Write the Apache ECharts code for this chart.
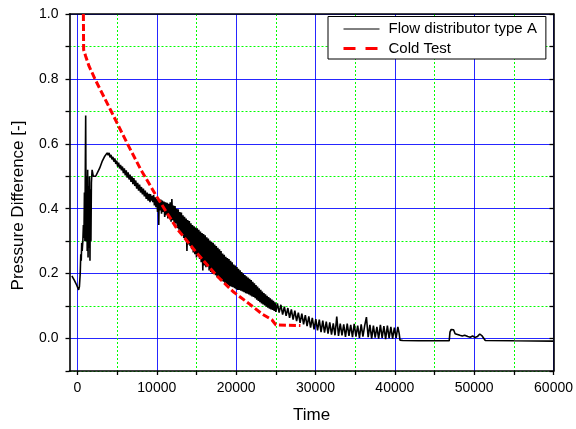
<!DOCTYPE html>
<html><head><meta charset="utf-8">
<script src="https://cdn.jsdelivr.net/npm/echarts@6/dist/echarts.min.js"></script>
<style>html,body{margin:0;padding:0;background:#fff}#c{width:576px;height:429px}</style>
</head><body><div id="c"></div>
<script>
// ---- data ----
const xMajorTicks = [0, 10000, 20000, 30000, 40000, 50000, 60000];
const xMinorTicks = [5000, 15000, 25000, 35000, 45000, 55000];
const xAllTicks = [0, 5000, 10000, 15000, 20000, 25000, 30000, 35000, 40000, 45000, 50000, 55000, 60000];
const yMin = -0.1, yMax = 1.0, yStep = 0.1;
const xMin = -1000, xMax = 60000;

const flowStart = [[-700,0.193],[-400,0.18],[-100,0.165],[150,0.15],[250,0.16],[350,0.2],[420,0.26],[480,0.24],[540,0.295],[600,0.27],[680,0.3],[750,0.35],[820,0.31],[880,0.45],[940,0.3],[1000,0.55],[1040,0.687],[1080,0.42],[1120,0.3],[1180,0.5],[1230,0.27],[1290,0.52],[1340,0.25],[1400,0.47],[1460,0.28],[1520,0.5],[1580,0.24],[1640,0.46],[1700,0.3],[1760,0.48],[1850,0.52],[1900,0.524],[2000,0.5],[2100,0.494],[2300,0.5],[2500,0.505],[2800,0.525],[3100,0.545],[3400,0.56],[3750,0.572]];
const flowDecay = [[3870,0.565],[3990,0.572],[4110,0.558],[4230,0.566],[4350,0.552],[4470,0.56],[4590,0.545],[4710,0.555],[4830,0.538],[4950,0.548],[5070,0.53],[5190,0.542],[5310,0.524],[5430,0.535],[5550,0.518],[5670,0.53],[5790,0.51],[5910,0.524],[6030,0.503],[6150,0.518],[6270,0.496],[6390,0.512],[6510,0.49],[6630,0.505],[6750,0.483],[6870,0.5],[6990,0.476],[7110,0.494],[7230,0.47],[7350,0.487],[7470,0.462],[7590,0.48],[7710,0.456],[7830,0.474],[7950,0.45],[8070,0.467],[8190,0.444],[8310,0.462],[8430,0.438],[8550,0.456],[8670,0.43],[8790,0.45],[8910,0.425],[9030,0.446],[9150,0.42]];
const flowBand = [[9200,0.445],[9300,0.425],[9400,0.44],[9500,0.42],[9600,0.442],[9700,0.41],[9800,0.435],[9900,0.405],[10000,0.43],[10100,0.39],[10200,0.425],[10250,0.35],[10300,0.43],[10400,0.395],[10500,0.428],[10600,0.385],[10700,0.425],[10800,0.39],[10900,0.422],[11000,0.375],[11100,0.42],[11200,0.38],[11300,0.418],[11400,0.37],[11500,0.415],[11600,0.372],[11700,0.42],[11800,0.36],[11900,0.43],[12000,0.365],[12100,0.41],[12200,0.35],[12300,0.408],[12400,0.355],[12500,0.40],[12600,0.34],[12700,0.398],[12800,0.335],[12900,0.39],[13000,0.325],[13100,0.388],[13200,0.32],[13300,0.38],[13400,0.31],[13500,0.375],[13600,0.305],[13700,0.37],[13800,0.27],[13900,0.365],[14000,0.29],[14100,0.362],[14200,0.285],[14300,0.355],[14400,0.275],[14500,0.35],[14600,0.265],[14700,0.346],[14800,0.26],[14900,0.342],[15000,0.25],[15100,0.34],[15200,0.255],[15300,0.335],[15400,0.245],[15500,0.33],[15600,0.235],[15700,0.325],[15800,0.21],[15900,0.322],[16000,0.225],[16100,0.318],[16200,0.22],[16300,0.312],[16400,0.225],[16500,0.308],[16600,0.21],[16700,0.302],[16800,0.205],[16900,0.298],[17000,0.2],[17100,0.295],[17200,0.205],[17300,0.29],[17400,0.195],[17500,0.285],[17600,0.19],[17700,0.28],[17800,0.185],[17900,0.275],[18000,0.18],[18100,0.27],[18200,0.178],[18300,0.262],[18400,0.175],[18500,0.258],[18600,0.17],[18700,0.252],[18800,0.168],[18900,0.248],[19000,0.165],[19100,0.245],[19200,0.162],[19300,0.24],[19400,0.16],[19500,0.235],[19600,0.158],[19700,0.228],[19800,0.155],[19900,0.225],[20000,0.152],[20100,0.22],[20200,0.15],[20300,0.215],[20400,0.15],[20500,0.21],[20600,0.147],[20700,0.205],[20800,0.145],[20900,0.2],[21000,0.143],[21100,0.196],[21200,0.14],[21300,0.192],[21400,0.138],[21500,0.188],[21600,0.136],[21700,0.184],[21800,0.133],[21900,0.18],[22000,0.13],[22100,0.175],[22200,0.128],[22300,0.17],[22400,0.124],[22500,0.165],[22600,0.12],[22700,0.16],[22800,0.116],[22900,0.155],[23000,0.112],[23100,0.15],[23200,0.108],[23300,0.145],[23400,0.105],[23500,0.14],[23600,0.102],[23700,0.136],[23800,0.098],[23900,0.132],[24000,0.095],[24100,0.128],[24200,0.092],[24300,0.124],[24400,0.09],[24500,0.12],[24600,0.088],[24700,0.116],[24800,0.085],[24900,0.112],[25000,0.082]];
const flowLate = [[25200,0.108],[25420,0.08],[25640,0.104],[25860,0.074],[26080,0.098],[26300,0.07],[26520,0.094],[26740,0.064],[26960,0.09],[27180,0.058],[27400,0.086],[27620,0.054],[27840,0.08],[28060,0.048],[28280,0.077],[28500,0.044],[28720,0.072],[28940,0.038],[29160,0.068],[29380,0.034],[29600,0.064],[29820,0.028],[30040,0.06],[30260,0.025],[30480,0.058],[30700,0.02],[30920,0.055],[31140,0.018],[31360,0.052],[31580,0.015],[31800,0.05],[32020,0.012],[32240,0.047],[32460,0.01],[32680,0.068],[32900,0.008],[33120,0.046],[33340,0.01],[33560,0.044],[33780,0.005],[34000,0.046],[34220,0.008],[34440,0.042],[34660,0.004],[34880,0.045],[35100,0.006],[35320,0.04],[35540,0.002],[35760,0.044],[35980,0.006],[36200,0.04],[36420,0.066],[36640,0.004],[36860,0.042],[37080,0.0],[37300,0.04],[37520,0.003],[37740,0.036],[37960,0.0],[38180,0.042],[38400,0.002],[38620,0.038],[38840,-0.002],[39060,0.04],[39280,0.001],[39500,0.036],[39720,0.0],[39940,0.034],[40160,0.002],[40380,0.036],[40550,0.015],[40650,-0.005]];
const flowTail = [[41000,-0.006],[43000,-0.007],[46850,-0.007],[46950,0.02],[47100,0.028],[47400,0.027],[47600,0.015],[47800,0.012],[48200,0.01],[48500,0.008],[48800,0.01],[49200,0.006],[49500,0.004],[49800,0.008],[50100,0.003],[50400,0.006],[50700,0.014],[51000,0.008],[51400,-0.006],[55000,-0.007],[60000,-0.008]];
const coldTest = [[750,1.0],[780,0.89],[1040,0.87],[1450,0.84],[2300,0.795],[4160,0.705],[6300,0.6],[8000,0.52],[10000,0.437],[12500,0.34],[15000,0.265],[17500,0.195],[19600,0.145],[21700,0.106],[23300,0.075],[24500,0.058],[25000,0.042],[28100,0.04]];
const seriesNames = ['Flow distributor type A', 'Cold Test'];
const xTitle = 'Time';
const yTitle = 'Pressure Difference [-]';

const flowData = flowStart.concat(flowDecay, flowBand, flowLate, flowTail);

// ---- chart ----
const FONT = '"Liberation Sans", Arial, sans-serif';
const chart = echarts.init(document.getElementById('c'), null, {renderer: 'canvas'});
const grid = {left: 69.5, right: 19.5, top: 14, bottom: 56.5, containLabel: false};
const blank = {axisLine: {show: false}, axisTick: {show: false}, axisLabel: {show: false}};
const xBase = {type: 'value', min: xMin, max: xMax, gridIndex: 0};
const yBase = {type: 'value', min: yMin, max: yMax, interval: yStep, gridIndex: 0};

chart.setOption({
  animation: false,
  backgroundColor: '#fff',
  grid: grid,
  xAxis: [
    Object.assign({}, xBase, blank, {position: 'bottom', axisTick: {show: false, customValues: xMajorTicks},
      splitLine: {show: true, lineStyle: {color: '#0000ff', width: 1, opacity: 0.85}}}),
    Object.assign({}, xBase, blank, {position: 'bottom', axisTick: {show: false, customValues: xMinorTicks},
      splitLine: {show: true, lineStyle: {color: '#00ff00', width: 1, type: [2, 2]}}}),
    Object.assign({}, xBase, {position: 'bottom',
      name: xTitle, nameLocation: 'middle', nameGap: 36,
      nameTextStyle: {fontFamily: FONT, fontSize: 17, color: '#000'},
      axisLine: {show: true, onZero: false, lineStyle: {color: '#000', width: 1.6}},
      axisTick: {show: true, inside: false, length: 4, customValues: xAllTicks, lineStyle: {color: '#000', width: 1.3}},
      axisLabel: {show: true, customValues: xMajorTicks, margin: 10, fontFamily: FONT, fontSize: 14, color: '#000',
        formatter: function (v) { return String(Math.round(v)); }},
      splitLine: {show: false}}),
    Object.assign({}, xBase, blank, {position: 'top',
      axisLine: {show: true, onZero: false, lineStyle: {color: '#000', width: 1.6}}, splitLine: {show: false}})
  ],
  yAxis: [
    Object.assign({}, yBase, blank, {position: 'left',
      splitLine: {show: true, lineStyle: {color: ['transparent', '#0000ff'], width: 1, opacity: 0.85}}}),
    Object.assign({}, yBase, blank, {position: 'left',
      splitLine: {show: true, lineStyle: {color: ['#00ff00', 'transparent'], width: 1, type: [2, 2]}}}),
    Object.assign({}, yBase, {position: 'left',
      name: yTitle, nameLocation: 'middle', nameGap: 43,
      nameTextStyle: {fontFamily: FONT, fontSize: 17, color: '#000', padding: [0, 26, 0, 0]},
      axisLine: {show: true, onZero: false, lineStyle: {color: '#000', width: 1.6}},
      axisTick: {show: true, inside: false, length: 4, lineStyle: {color: '#000', width: 1.3}},
      axisLabel: {show: true, margin: 11, fontFamily: FONT, fontSize: 14, color: '#000',
        formatter: function (v) { const k = Math.round(v * 10); return (k % 2 === 0) ? (k / 10).toFixed(1) : ''; }},
      splitLine: {show: false}}),
    Object.assign({}, yBase, {position: 'right',
      axisLine: {show: true, onZero: false, lineStyle: {color: '#000', width: 1.6}},
      axisTick: {show: true, inside: true, length: 4, lineStyle: {color: '#000', width: 1.3}},
      axisLabel: {show: false}, splitLine: {show: false}})
  ],
  legend: {
    show: true, orient: 'vertical', left: 328, top: 16.5,
    backgroundColor: '#fff', borderColor: '#000', borderWidth: 1, borderRadius: 0,
    padding: [5, 9, 3, 14], itemWidth: 36, itemHeight: 14, itemGap: 4.5,
    itemStyle: {opacity: 0},
    textStyle: {fontFamily: FONT, fontSize: 15, color: '#000', padding: [0, 0, 0, 4]},
    data: [
      {name: seriesNames[0], lineStyle: {width: 1}},
      {name: seriesNames[1], lineStyle: {type: [12, 10], width: 3}}
    ]
  },
  series: [
    {name: seriesNames[0], type: 'line', xAxisIndex: 2, yAxisIndex: 2, data: flowData,
      symbol: 'none', showSymbol: false, clip: true, z: 3,
      lineStyle: {color: '#000', width: 1.6}, itemStyle: {color: '#000'}},
    {name: seriesNames[1], type: 'line', xAxisIndex: 2, yAxisIndex: 2, data: coldTest,
      symbol: 'none', showSymbol: false, clip: true, z: 4,
      lineStyle: {color: '#ff0000', width: 3, type: [7, 3]}, itemStyle: {color: '#ff0000'}}
  ]
});
</script></body></html>
